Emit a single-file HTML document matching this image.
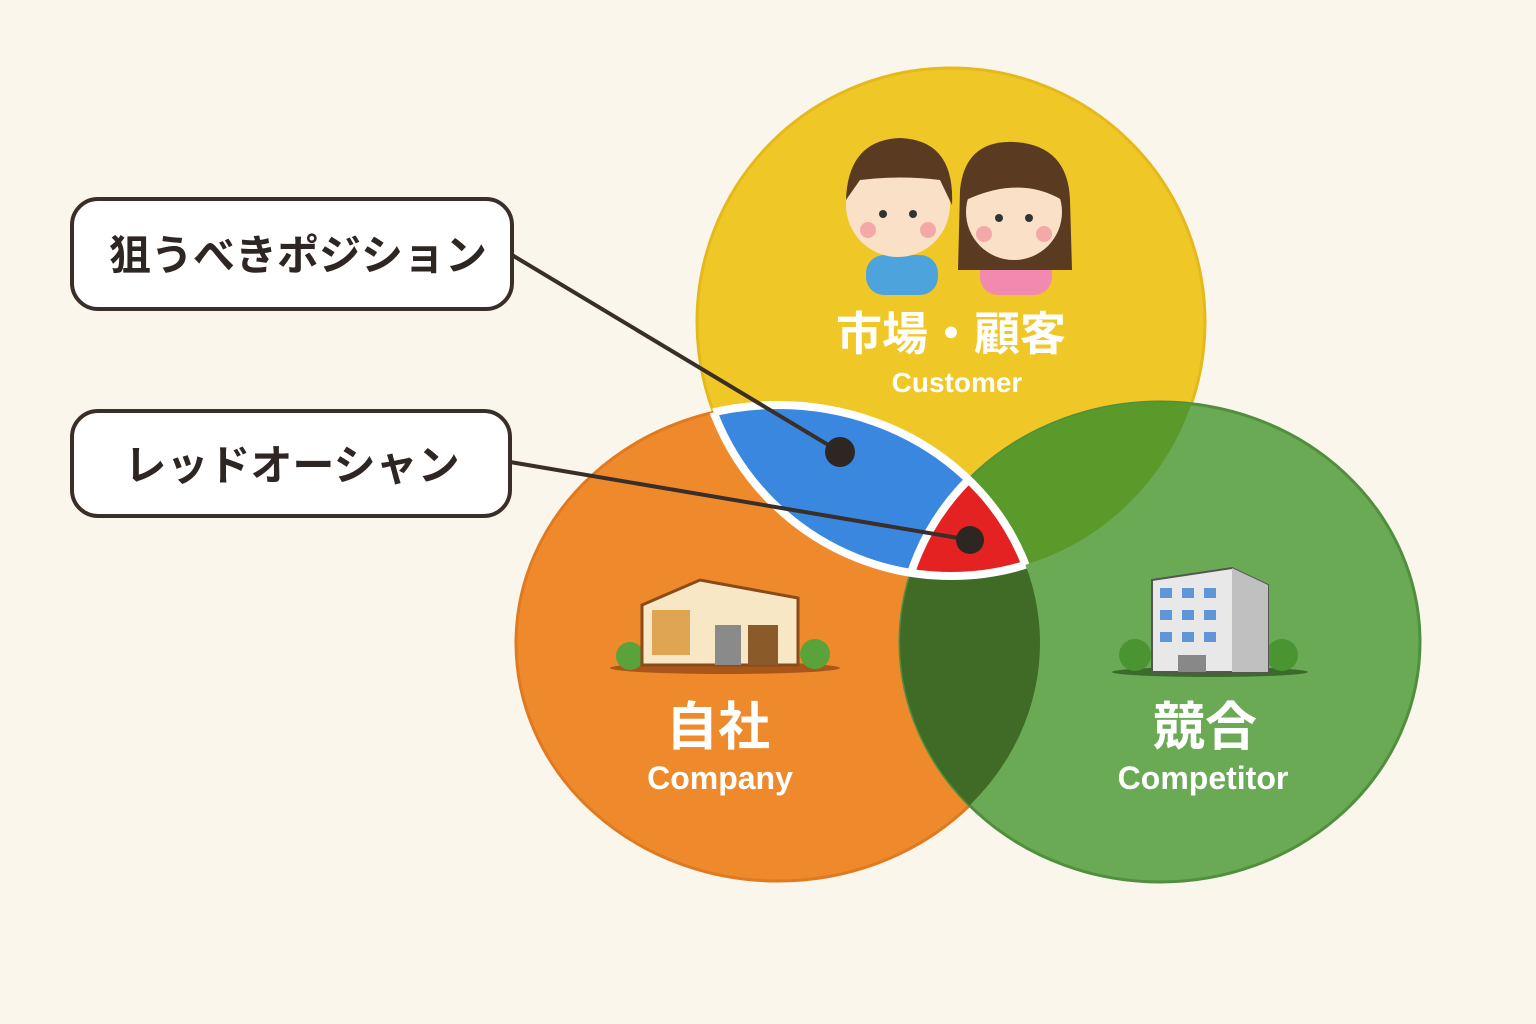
<!DOCTYPE html>
<html><head><meta charset="utf-8"><style>
html,body{margin:0;padding:0;background:#fbf6ec;}
svg{display:block}
text{font-family:"Liberation Sans","Noto Sans CJK JP",sans-serif;font-weight:bold}
</style></head><body>
<svg width="1536" height="1024" viewBox="0 0 1536 1024">
<defs>
<clipPath id="cy"><circle cx="951" cy="322" r="254"/></clipPath>
<clipPath id="co"><ellipse cx="778" cy="643" rx="262" ry="238"/></clipPath>
<clipPath id="cg"><ellipse cx="1160" cy="642" rx="260" ry="240"/></clipPath>
</defs>
<rect width="1536" height="1024" fill="#fbf6ec"/>
<circle cx="951" cy="322" r="254" fill="#efc726" stroke="#e5b91c" stroke-width="3"/>
<ellipse cx="778" cy="643" rx="262" ry="238" fill="#ee8a2c" stroke="#e07a20" stroke-width="3"/>
<ellipse cx="1160" cy="642" rx="260" ry="240" fill="#6aaa55" stroke="#4f8f3d" stroke-width="3"/>
<g clip-path="url(#cy)"><ellipse cx="1160" cy="642" rx="260" ry="240" fill="#5a9a2a"/></g>
<g clip-path="url(#co)"><ellipse cx="1160" cy="642" rx="260" ry="240" fill="#3f6b27"/></g>
<g clip-path="url(#cy)"><ellipse cx="778" cy="643" rx="262" ry="238" fill="#3a87e0"/></g>
<g clip-path="url(#cy)"><g clip-path="url(#co)"><ellipse cx="1160" cy="642" rx="260" ry="240" fill="#e52222"/></g></g>
<g clip-path="url(#cy)"><ellipse cx="778" cy="643" rx="262" ry="238" fill="none" stroke="#fff" stroke-width="8"/></g>
<g clip-path="url(#co)"><circle cx="951" cy="322" r="254" fill="none" stroke="#fff" stroke-width="8"/></g>
<g clip-path="url(#cy)"><g clip-path="url(#co)"><ellipse cx="1160" cy="642" rx="260" ry="240" fill="none" stroke="#fff" stroke-width="8"/></g></g>

<g>
<rect x="866" y="255" width="72" height="40" rx="18" fill="#4da3dc"/>
<circle cx="898" cy="205" r="52" fill="#fbe0c8"/>
<path d="M846 200 Q848 140 900 138 Q955 140 952 205 L940 180 Q900 175 860 180 Z" fill="#5b3a22"/>
<rect x="980" y="255" width="72" height="40" rx="18" fill="#f28ab0"/>
<path d="M960 190 Q965 140 1014 142 Q1068 145 1070 200 L1072 270 L958 270 Z" fill="#5b3a22"/>
<circle cx="1014" cy="212" r="48" fill="#fbe0c8"/>
<path d="M966 200 Q970 155 1014 155 Q1060 158 1062 200 Q1020 175 966 200 Z" fill="#5b3a22"/>
<circle cx="883" cy="214" r="4" fill="#333"/><circle cx="913" cy="214" r="4" fill="#333"/>
<circle cx="999" cy="218" r="4" fill="#333"/><circle cx="1029" cy="218" r="4" fill="#333"/>
<circle cx="868" cy="230" r="8" fill="#f4a8a8"/><circle cx="928" cy="230" r="8" fill="#f4a8a8"/>
<circle cx="984" cy="234" r="8" fill="#f4a8a8"/><circle cx="1044" cy="234" r="8" fill="#f4a8a8"/>
</g>
<g>
<ellipse cx="725" cy="668" rx="115" ry="6" fill="#a8561a"/>
<circle cx="630" cy="656" r="14" fill="#5aa23a"/><circle cx="815" cy="654" r="15" fill="#5aa23a"/>
<polygon points="642,605 700,580 798,598 798,665 642,665" fill="#f7e7c4" stroke="#8a4b1a" stroke-width="3"/>
<rect x="652" y="610" width="38" height="45" fill="#e0a552"/>
<rect x="715" y="625" width="26" height="40" fill="#8a8a8a"/>
<rect x="748" y="625" width="30" height="40" fill="#8a5a2a"/>
</g>
<g>
<ellipse cx="1210" cy="672" rx="98" ry="5" fill="#3a6b2a"/>
<circle cx="1135" cy="655" r="16" fill="#4a9432"/><circle cx="1282" cy="655" r="16" fill="#4a9432"/>
<polygon points="1152,580 1232,568 1268,585 1268,672 1152,672" fill="#e8e8e8" stroke="#555" stroke-width="2"/>
<polygon points="1232,568 1268,585 1268,672 1232,672" fill="#c0c0c0"/>
<g fill="#5e96d8">
<rect x="1160" y="588" width="12" height="10"/><rect x="1182" y="588" width="12" height="10"/><rect x="1204" y="588" width="12" height="10"/>
<rect x="1160" y="610" width="12" height="10"/><rect x="1182" y="610" width="12" height="10"/><rect x="1204" y="610" width="12" height="10"/>
<rect x="1160" y="632" width="12" height="10"/><rect x="1182" y="632" width="12" height="10"/><rect x="1204" y="632" width="12" height="10"/>
</g>
<rect x="1178" y="655" width="28" height="17" fill="#888"/>
</g>

<g fill="#fff" text-anchor="middle">
<text x="951" y="350" font-size="46">市場・顧客</text>
<text x="957" y="392" font-size="28">Customer</text>
<text x="718" y="745" font-size="52">自社</text>
<text x="720" y="789" font-size="32">Company</text>
<text x="1205" y="745" font-size="52">競合</text>
<text x="1203" y="789" font-size="32">Competitor</text>
</g>

<line x1="512" y1="255" x2="840" y2="452" stroke="#3a2e28" stroke-width="4"/>
<line x1="510" y1="462" x2="970" y2="540" stroke="#3a2e28" stroke-width="4"/>
<circle cx="840" cy="452" r="15" fill="#2e2622"/>
<circle cx="970" cy="540" r="14" fill="#2e2622"/>

<rect x="72" y="199" width="440" height="110" rx="26" fill="#fff" stroke="#3a2e28" stroke-width="4"/>
<text x="298" y="270" font-size="42" text-anchor="middle" fill="#2e2622">狙うべきポジション</text>
<rect x="72" y="411" width="438" height="105" rx="26" fill="#fff" stroke="#3a2e28" stroke-width="4"/>
<text x="292" y="480" font-size="42" text-anchor="middle" fill="#2e2622">レッドオーシャン</text>
</svg>
</body></html>
